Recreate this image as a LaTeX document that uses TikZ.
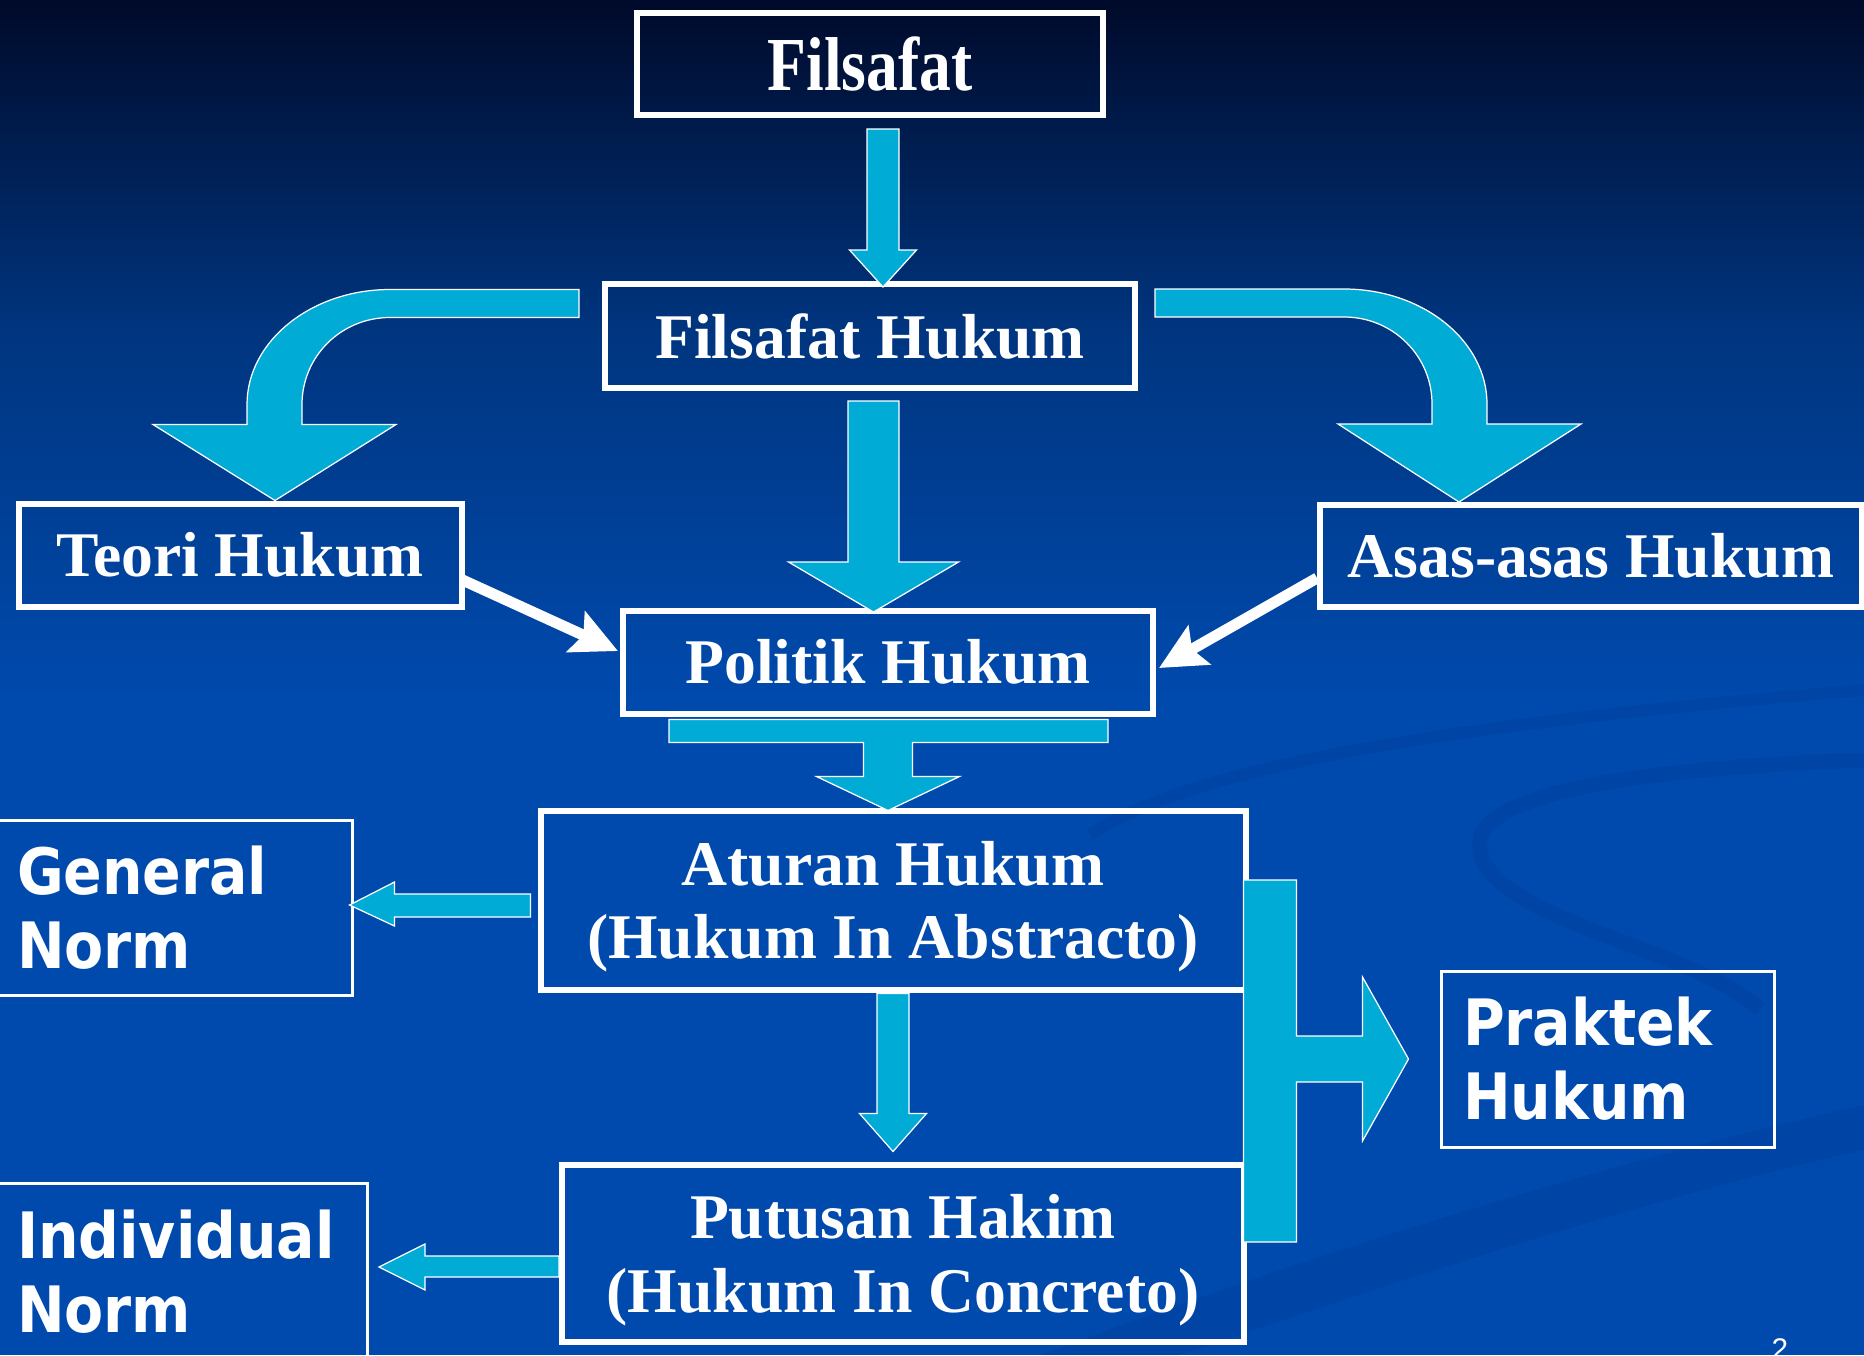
\documentclass[tikz,border=0pt]{standalone}
\usepackage{fontspec}
\setmainfont{Liberation Serif}
\newfontfamily\normfont[FakeStretch=0.89]{DejaVu Sans}
\newfontfamily\pagefont{Liberation Sans}
\usepackage{graphicx}
\usetikzlibrary{calc,arrows.meta,positioning}
\definecolor{bgtop}{RGB}{0,10,42}
\definecolor{bgmid}{RGB}{0,53,127}
\definecolor{bgblue}{RGB}{0,74,173}
\definecolor{swoosh}{RGB}{0,58,150}
\definecolor{arrcyan}{RGB}{0,172,214}

\tikzset{
  serifbox/.style={draw=white, line width=0.6mm, text=white, font=\fontsize{18.1}{21}\selectfont\bfseries, align=center, inner sep=0pt},
  normbox/.style={draw=white, line width=0.3mm, text=white, font=\normfont\fontsize{18.2}{21}\selectfont\bfseries, align=left, inner xsep=2.2mm, inner ysep=0pt},
  blockarr/.style={fill=arrcyan, draw=white, line width=0.35pt, line join=miter},
  thinarr/.style={draw=white, line width=1.1mm, -{Stealth[length=4.6mm,width=4.4mm,inset=0.8mm]}},
}

\begin{document}
\begin{tikzpicture}[x=0.1mm, y=-0.1mm]
\useasboundingbox (0,0) rectangle (1864,1355);
\clip (0,0) rectangle (1864,1355);

% Background
\fill[top color=bgtop, bottom color=bgmid] (0,0) rectangle (1864,330);
\fill[top color=bgmid, bottom color=bgblue] (0,329) rectangle (1864,700);
\fill[bgblue] (0,699) rectangle (1864,1355);
\begin{scope}[opacity=0.3]
\fill[swoosh] (1040,1355) .. controls (1350,1240) and (1620,1160) .. (1864,1105) -- (1864,1150) .. controls (1640,1200) and (1400,1280) .. (1180,1355) -- cycle;
\draw[swoosh, line width=1.2mm] (1090,835) .. controls (1200,760) and (1500,720) .. (1864,690);
\draw[swoosh, line width=1.5mm] (1864,760) .. controls (1600,770) and (1470,800) .. (1480,850) .. controls (1490,920) and (1700,950) .. (1760,1010);
\end{scope}

% Boxes
\node[serifbox, minimum width=46.6mm, minimum height=10.2mm] (filsafat) at (870,64) {\scalebox{1}[1.2]{Filsafat}};
\node[serifbox, minimum width=53mm, minimum height=10.4mm] (fhukum) at (870,336) {Filsafat Hukum};
\node[serifbox, minimum width=44.3mm, minimum height=10.3mm] (teori) at (240,555) {Teori Hukum};
\node[serifbox, minimum width=54.2mm, minimum height=10.2mm] (asas) at (1591,556) {Asas-asas Hukum};
\node[serifbox, minimum width=53mm, minimum height=10.3mm] (politik) at (888,662) {Politik Hukum};
\node[serifbox, minimum width=70.5mm, minimum height=17.9mm, text depth=0pt] (aturan) at (893,900) {Aturan Hukum\\(Hukum In Abstracto)};
\node[serifbox, minimum width=68.2mm, minimum height=17.7mm, text depth=0pt] (putusan) at (903,1253) {Putusan Hakim\\(Hukum In Concreto)};
\node[normbox, text width=31.3mm, minimum height=17.5mm] (general) at (173.5,907.5) {General\\Norm};
\node[normbox, text width=32.8mm, minimum height=17.7mm] (individual) at (181,1272) {Individual\\Norm};
\node[normbox, text width=28.9mm, minimum height=17.6mm] (praktek) at (1607.5,1059) {Praktek\\Hukum};

% Block arrows
\begin{scope}[shift={(filsafat.south)}]
\draw[blockarr] (-3,11) -- (29,11) -- (29,132) -- (46.5,132) -- (13,169) -- (-20.5,132) -- (-3,132) -- cycle;
\end{scope}
\begin{scope}[shift={(fhukum.south)}]
\draw[blockarr] (-22,10) -- (29,10) -- (29,171) -- (88.5,171) -- (3.5,221) -- (-81.5,171) -- (-22,171) -- cycle;
\end{scope}
\begin{scope}[shift={(politik.south)}]
\draw[blockarr] (-219,3) -- (220,3) -- (220,26) -- (24.5,26) -- (24.5,60) -- (71.5,60) -- (0,94) -- (-71.5,60) -- (-24.5,60) -- (-24.5,26) -- (-219,26) -- cycle;
\end{scope}
\begin{scope}[shift={(aturan.south)}]
\draw[blockarr] (-16,1) -- (16,1) -- (16,121) -- (33.5,121) -- (0,159) -- (-33.5,121) -- (-16,121) -- cycle;
\end{scope}
\begin{scope}[shift={(aturan.west)}]
\draw[blockarr] (-7,-6) -- (-143,-6) -- (-143,-18) -- (-188,5) -- (-143,26) -- (-143,17) -- (-7,17) -- cycle;
\end{scope}
\begin{scope}[shift={(putusan.west)}]
\draw[blockarr] (0,3) -- (-134,3) -- (-134,-9) -- (-180,14) -- (-134,37) -- (-134,24) -- (0,24) -- cycle;
\end{scope}
\begin{scope}[shift={(praktek.west)}]
\draw[blockarr] (-196,-179) -- (-143,-179) -- (-143,-23) -- (-77,-23) -- (-77,-82) -- (-31,0) -- (-77,82) -- (-77,23) -- (-143,23) -- (-143,183) -- (-196,183) -- cycle;
\end{scope}

% Curved arrows
\begin{scope}[shift={(teori.north)}]
\draw[blockarr] (339,-211) -- (150,-211) .. controls (71,-211) and (7,-159) .. (7,-96) -- (7,-76) -- (-87,-76) -- (35,0) -- (156,-76) -- (62,-76) -- (62,-96) .. controls (62,-144) and (101,-183) .. (150,-183) -- (339,-183) -- cycle;
\end{scope}
\begin{scope}[shift={(asas.north)}]
\draw[blockarr] (-436,-213) -- (-247,-213) .. controls (-168,-213) and (-104,-161) .. (-104,-98) -- (-104,-78) -- (-10,-78) -- (-132,0) -- (-253,-78) -- (-159,-78) -- (-159,-98) .. controls (-159,-146) and (-198,-185) .. (-247,-185) -- (-436,-185) -- cycle;
\end{scope}

% White arrows
\draw[thinarr] ($(teori.east)+(-2,25)$) -- ($(politik.west)+(-2,-11)$);
\draw[thinarr] ($(asas.west)+(0,22)$) -- ($(politik.east)+(3,6)$);

% Page number
\node[text=white, font=\pagefont\fontsize{8.5}{10}\selectfont, anchor=north, inner sep=0pt] (pagenum) at (1780,1338) {2};
\end{tikzpicture}
\end{document}
